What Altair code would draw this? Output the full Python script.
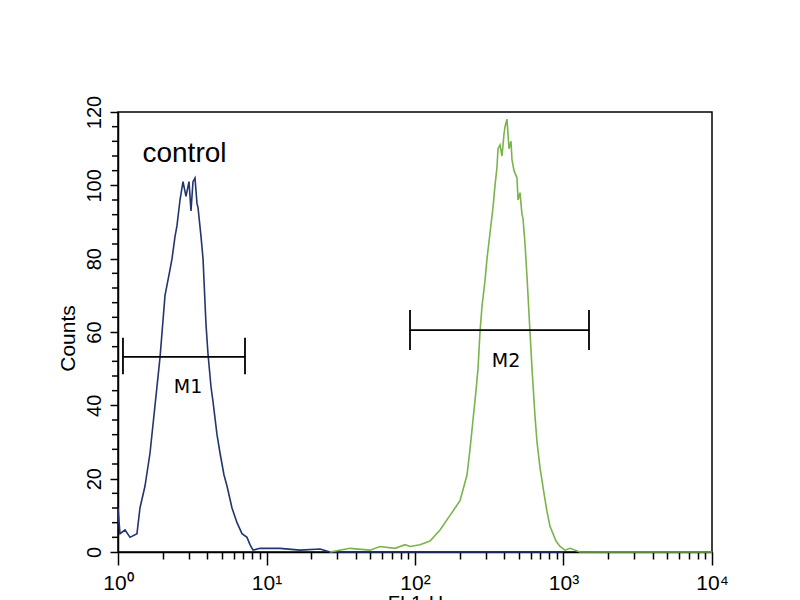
import altair as alt
import pandas as pd

# Control histogram (FL1-H, counts)
ctrl_x = [1.0, 1.031, 1.115, 1.205, 1.342, 1.406, 1.52, 1.643, 1.775, 1.918, 2.073, 2.24, 2.311,
          2.42, 2.496, 2.615, 2.74, 2.87, 3.007, 3.101, 3.199, 3.3, 3.404, 3.457, 3.623, 3.737,
          3.914, 4.038, 4.23, 4.363, 4.642, 4.863, 5.173, 5.42, 5.857, 6.329, 6.839, 7.39, 7.742,
          8.111, 9.04, 12.33, 16.81, 22.93, 26.77, 100.0, 1000.0]
ctrl_y = [12, 5, 6, 4, 5, 12, 18, 27, 40, 53, 70, 77, 80,
          86, 89, 96, 101, 97, 101, 93, 101, 102, 95, 94, 86, 80,
          62, 54, 45, 41, 32, 27, 21, 18, 12, 8, 5, 4, 2,
          0.5, 1, 1, 0.5, 0.8, 0, 0, 0]

# Stained sample histogram
samp_x = [26.77, 36.5, 49.77, 58.13, 73.34, 85.65, 92.55, 108.06, 126.2, 147.4, 172.1, 186.0,
          200.9, 213.8, 224.0, 234.6, 245.8, 257.5, 265.6, 274.0, 282.6, 296.0, 305.4, 320.0,
          335.2, 345.8, 356.6, 362.3, 373.6, 385.4, 397.5, 403.7, 416.4, 429.5, 443.0, 450.0,
          464.2, 486.3, 494.0, 509.5, 525.5, 533.8, 550.6, 567.9, 594.9, 613.7, 642.9, 663.1,
          694.7, 739.1, 774.3, 811.1, 849.7, 890.1, 947.1, 1023.5, 1106.1, 1291.6, 10000.0]
samp_y = [0, 1, 0.5, 1.5, 1, 2, 1.5, 2, 3, 6, 10, 12,
          14, 18, 21, 28, 36, 44, 50, 60, 67, 74, 80, 87,
          94, 100, 105, 110, 111, 108, 114, 116, 118, 110, 112, 107,
          104, 102, 96, 98, 92, 91, 84, 75, 60, 50, 37, 30,
          23, 16, 11, 7, 5, 3, 1.5, 0.5, 1, 0, 0]

# Markers
marker_names = ["M1", "M2"]
marker_x1 = [1.08, 92.55]
marker_x2 = [7.165, 1485.0]
marker_y = [53.2, 60.5]
marker_label_x = [2.961, 410.1]
marker_label_y = [43.4, 50.5]
marker_tick_lo = [48.5, 55.1]
marker_tick_hi = [58.4, 66.0]

control_label = ["control"]
control_x = [2.804]
control_y = [106.4]

x_ticks = [1, 2, 3, 4, 5, 6, 7, 8, 9, 10, 20, 30, 40, 50, 60, 70, 80, 90, 100,
           200, 300, 400, 500, 600, 700, 800, 900, 1000, 2000, 3000, 4000, 5000,
           6000, 7000, 8000, 9000, 10000]
y_major = [0, 20, 40, 60, 80, 100, 120]
y_minor = [v for v in range(0, 121, 4) if v % 20 != 0]

ctrl = pd.DataFrame({"x": ctrl_x, "y": ctrl_y})
samp = pd.DataFrame({"x": samp_x, "y": samp_y})
mk = pd.DataFrame({"name": marker_names, "x1": marker_x1, "x2": marker_x2, "y": marker_y,
                   "lx": marker_label_x, "ly": marker_label_y})
ends = pd.DataFrame({"x": marker_x1 + marker_x2, "lo": marker_tick_lo * 2, "hi": marker_tick_hi * 2})
minor = pd.DataFrame({"v": y_minor})

is_pow = "abs(log(datum.value)/LN10 - round(log(datum.value)/LN10)) < 0.000001"
sup = "['\u2070','\u00b9','\u00b2','\u00b3','\u2074'][round(log(datum.value)/LN10)]"

FONT = "Liberation Sans"
xscale = alt.Scale(type="log", domain=[1, 10000], nice=False)
yscale = alt.Scale(domain=[0, 120], nice=False)

xaxis = alt.Axis(values=x_ticks, title="FL1-H", titleFontSize=20, titleFont=FONT,
                 titleFontWeight="normal", titleColor="black",
                 titleX=297, titleY=41, titleBaseline="top", titleAlign="center",
                 labelExpr=f"({is_pow}) ? '10' + {sup} : ''",
                 labelFont=FONT, labelFontSize=21, labelColor="black",
                 labelBaseline="alphabetic",
                 labelOverlap=False, labelBound=False, labelFlush=False,
                 tickSize={"condition": {"test": is_pow, "value": 13}, "value": 7},
                 tickColor="black", tickWidth=1.5, domainColor="black", domainWidth=1.5,
                 grid=False, labelPadding=24)
yaxis = alt.Axis(values=y_major, title="Counts", titleFontSize=21, titleFont=FONT,
                 titleFontWeight="normal", titleColor="black",
                 titleX=-44, titleY=226, titleAngle=270, titleAlign="center",
                 titleBaseline="alphabetic",
                 labelAngle=270, labelAlign="center", labelBaseline="alphabetic",
                 labelFont=FONT, labelFontSize=20, labelColor="black",
                 labelOverlap=False, labelBound=False, labelFlush=False,
                 tickSize=8, tickColor="black", tickWidth=1.5,
                 domainColor="black", domainWidth=1.5, grid=False, labelPadding=10)

ctrl_line = alt.Chart(ctrl).mark_line(color="#23356f", strokeWidth=1.6).encode(
    x=alt.X("x:Q", scale=xscale, axis=xaxis),
    y=alt.Y("y:Q", scale=yscale, axis=yaxis))
samp_line = alt.Chart(samp).mark_line(color="#7ab44c", strokeWidth=1.6).encode(
    x=alt.X("x:Q", scale=xscale), y=alt.Y("y:Q", scale=yscale))

minor_ticks = alt.Chart(minor).mark_rule(color="black", strokeWidth=1.5).encode(
    x=alt.value(-6), x2=alt.value(0), y=alt.Y("v:Q", scale=yscale))

bars = alt.Chart(mk).mark_rule(color="black", strokeWidth=1.8).encode(
    x=alt.X("x1:Q", scale=xscale), x2="x2:Q", y=alt.Y("y:Q", scale=yscale))
end_ticks = alt.Chart(ends).mark_rule(color="black", strokeWidth=1.8).encode(
    x=alt.X("x:Q", scale=xscale), y=alt.Y("lo:Q", scale=yscale), y2="hi:Q")
labels = alt.Chart(mk).mark_text(font="DejaVu Sans", fontSize=19, color="black",
                                 baseline="alphabetic").encode(
    x=alt.X("lx:Q", scale=xscale), y=alt.Y("ly:Q", scale=yscale), text="name:N")
ctrl_text = alt.Chart(pd.DataFrame({"x": control_x, "y": control_y, "t": control_label})).mark_text(
    font=FONT, fontSize=28, color="black", baseline="alphabetic").encode(
    x=alt.X("x:Q", scale=xscale), y=alt.Y("y:Q", scale=yscale), text="t:N")

chart = alt.layer(ctrl_line, samp_line, minor_ticks, bars, end_ticks, labels, ctrl_text).properties(
    width=594, height=440,
    padding={"left": 110, "top": 104, "right": 80, "bottom": 60},
    autosize=alt.AutoSizeParams(type="none"),
    background="white",
).configure_view(stroke="black", strokeWidth=1.5)

chart.save("out.html", embed_options={"renderer": "svg", "actions": False})
